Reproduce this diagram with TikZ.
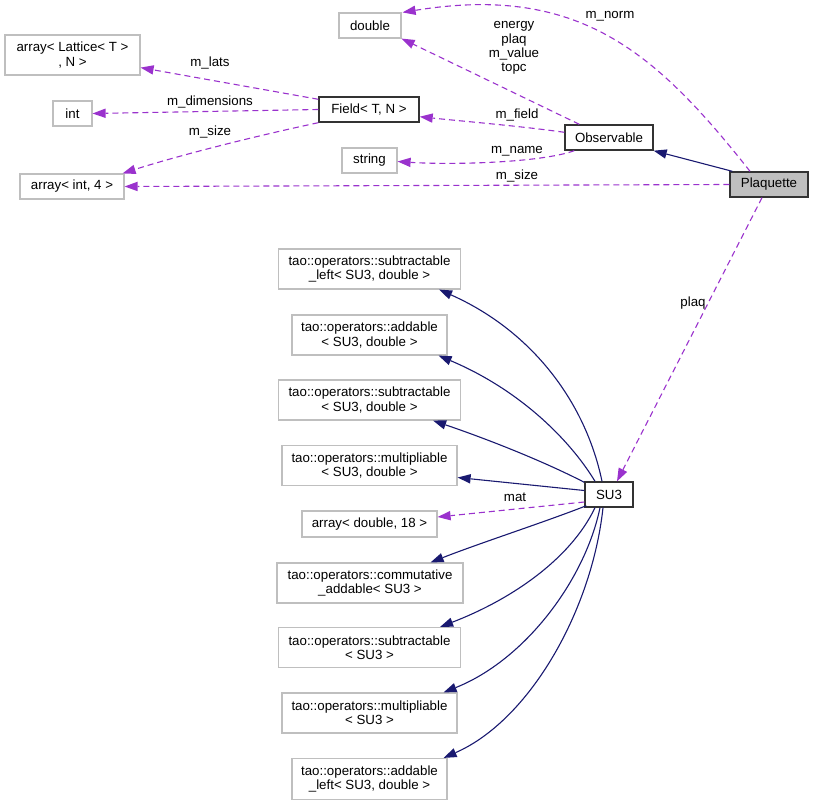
\documentclass[tikz,border=0pt]{standalone}
\usepackage{fontspec}
\setmainfont{Liberation Sans}
\usetikzlibrary{arrows.meta,calc}
\definecolor{edgepurple}{HTML}{9A32CD}
\definecolor{edgenavy}{HTML}{191970}
\definecolor{boxgray}{HTML}{BFBFBF}
\begin{document}
\begin{tikzpicture}[x=1pt,y=-1pt,
  every node/.style={font=\fontsize{13.3}{14.3}\selectfont},
  gbox/.style={draw=boxgray, line width=1.2pt, fill=white, align=center, inner sep=0pt},
  kbox/.style={draw=black!80, line width=1.4pt, fill=white, align=center, inner sep=0pt},
  use/.style={draw=edgepurple, line width=1.1pt, dash pattern=on 6pt off 4pt, -{Triangle[length=13pt,width=9.5pt,fill=edgepurple,line width=0pt]}},
  inh/.style={draw=edgenavy, line width=1.1pt, -{Triangle[length=13pt,width=9.5pt,fill=edgenavy,line width=0pt]}},
  lbl/.style={inner sep=0pt, align=center}
]
\useasboundingbox (0,0) rectangle (813,805);

% top nodes
\node[gbox, minimum width=62pt, minimum height=25pt] (dbl) at (370,25.5) {double};
\node[gbox, minimum width=135pt, minimum height=40pt] (lat) at (72.5,55) {array< Lattice< T >\\, N >};
\node[gbox, minimum width=39pt, minimum height=25pt] (int) at (72.5,113.5) {int};
\node[kbox, minimum width=100pt, minimum height=25pt] (field) at (369,109.5) {Field< T, N >};
\node[gbox, minimum width=55pt, minimum height=25pt] (str) at (369.5,160.5) {string};
\node[gbox, minimum width=104pt, minimum height=25pt] (ai4) at (72,186.5) {array< int, 4 >};
\node[kbox, minimum width=88pt, minimum height=25pt] (obs) at (609,137.5) {Observable};
\node[kbox, minimum width=78pt, minimum height=25pt, fill=boxgray] (plq) at (769,184.5) {Plaquette};
\node[kbox, minimum width=48pt, minimum height=25pt] (su3) at (609,494.5) {SU3};

% left column
\node[gbox, minimum width=182pt, minimum height=40pt] (t1) at (369.5,269) {tao::operators::subtractable\\\_left< SU3, double >};
\node[gbox, minimum width=155pt, minimum height=40pt] (t2) at (369.5,335) {tao::operators::addable\\< SU3, double >};
\node[gbox, minimum width=182pt, minimum height=40pt] (t3) at (369.5,400) {tao::operators::subtractable\\< SU3, double >};
\node[gbox, minimum width=175pt, minimum height=40pt] (t4) at (369.5,465.5) {tao::operators::multipliable\\< SU3, double >};
\node[gbox, minimum width=135pt, minimum height=26pt] (ad18) at (369.5,524) {array< double, 18 >};
\node[gbox, minimum width=186pt, minimum height=40pt] (t5) at (370,583) {tao::operators::commutative\\\_addable< SU3 >};
\node[gbox, minimum width=182pt, minimum height=40pt] (t6) at (369.5,647.5) {tao::operators::subtractable\\< SU3 >};
\node[gbox, minimum width=175pt, minimum height=40pt] (t7) at (369.5,713) {tao::operators::multipliable\\< SU3 >};
\node[gbox, minimum width=155pt, minimum height=41pt] (t8) at (369.5,779) {tao::operators::addable\\\_left< SU3, double >};

% top edges
\draw[inh] ($(plq.north west)+(3,0)$) -- (obs.south east);
\draw[use] ($(plq.north)+(-19,0)$) .. controls (655,51) and (578,-16) .. ($(dbl.north east)+(1,0)$);
\draw[use] ($(obs.north west)+(15,0)$) -- (dbl.south east);
\draw[use] ($(obs.north west)+(0,8)$) .. controls (520,126) and (460,121) .. ($(field.south east)+(0,-6)$);
\draw[use] ($(obs.south west)+(10,0)$) .. controls (540,163) and (450,165) .. ($(str.east)+(0,1)$);
\draw[use] (plq.west) -- (ai4.east);
\draw[use] ($(field.north west)+(0,3)$) -- ($(lat.south east)+(0,-8)$);
\draw[use] (field.west) -- (int.east);
\draw[use] (field.south west) .. controls (260,135) and (180,155) .. ($(ai4.north east)+(-2,0)$);
\draw[use] ($(plq.south)+(-7,0)$) -- ($(su3.north)+(8,0)$);

% labels
\node[lbl] (lnorm) at (610,16) {m\_norm};
\node[lbl] (lenergy) at (514,48) {energy\\plaq\\m\_value\\topc};
\node[lbl] (lfield) at (517,115) {m\_field};
\node[lbl] (lname) at (517,151) {m\_name};
\node[lbl] (lsize1) at (517,176) {m\_size};
\node[lbl] (llats) at (210,63) {m\_lats};
\node[lbl] (ldims) at (210,102) {m\_dimensions};
\node[lbl] (lsize2) at (210,132) {m\_size};
\node[lbl] (lplaq) at (693,303) {plaq};
\node[lbl] (lmat) at (515,497) {mat};

% SU3 edges
\draw[inh] ($(su3.north)+(-7,0)$) .. controls (585,400) and (530,330) .. ($(t1.south east)+(-22,0)$);
\draw[inh] ($(su3.north)+(-14,0)$) .. controls (570,440) and (520,390) .. ($(t2.south east)+(-9,0)$);
\draw[inh] ($(su3.north west)+(0,1)$) .. controls (545,462) and (490,440) .. ($(t3.south east)+(-28,0)$);
\draw[inh] ($(su3.west)+(0,-4)$) -- ($(t4.east)+(0,12)$);
\draw[use] ($(su3.west)+(0,7.5)$) -- ($(ad18.east)+(0,-7)$);
\draw[inh] ($(su3.south west)+(2,-2)$) .. controls (545,522) and (480,543) .. ($(t5.north east)+(-33,0)$);
\draw[inh] ($(su3.south)+(-14,0)$) .. controls (570,560) and (510,600) .. ($(t6.north east)+(-21,0)$);
\draw[inh] ($(su3.south)+(-9,0)$) .. controls (585,580) and (525,660) .. ($(t7.north east)+(-14,0)$);
\draw[inh] ($(su3.south)+(-6,0)$) .. controls (592,610) and (530,720) .. ($(t8.north east)+(-4,0)$);
\end{tikzpicture}
\end{document}
